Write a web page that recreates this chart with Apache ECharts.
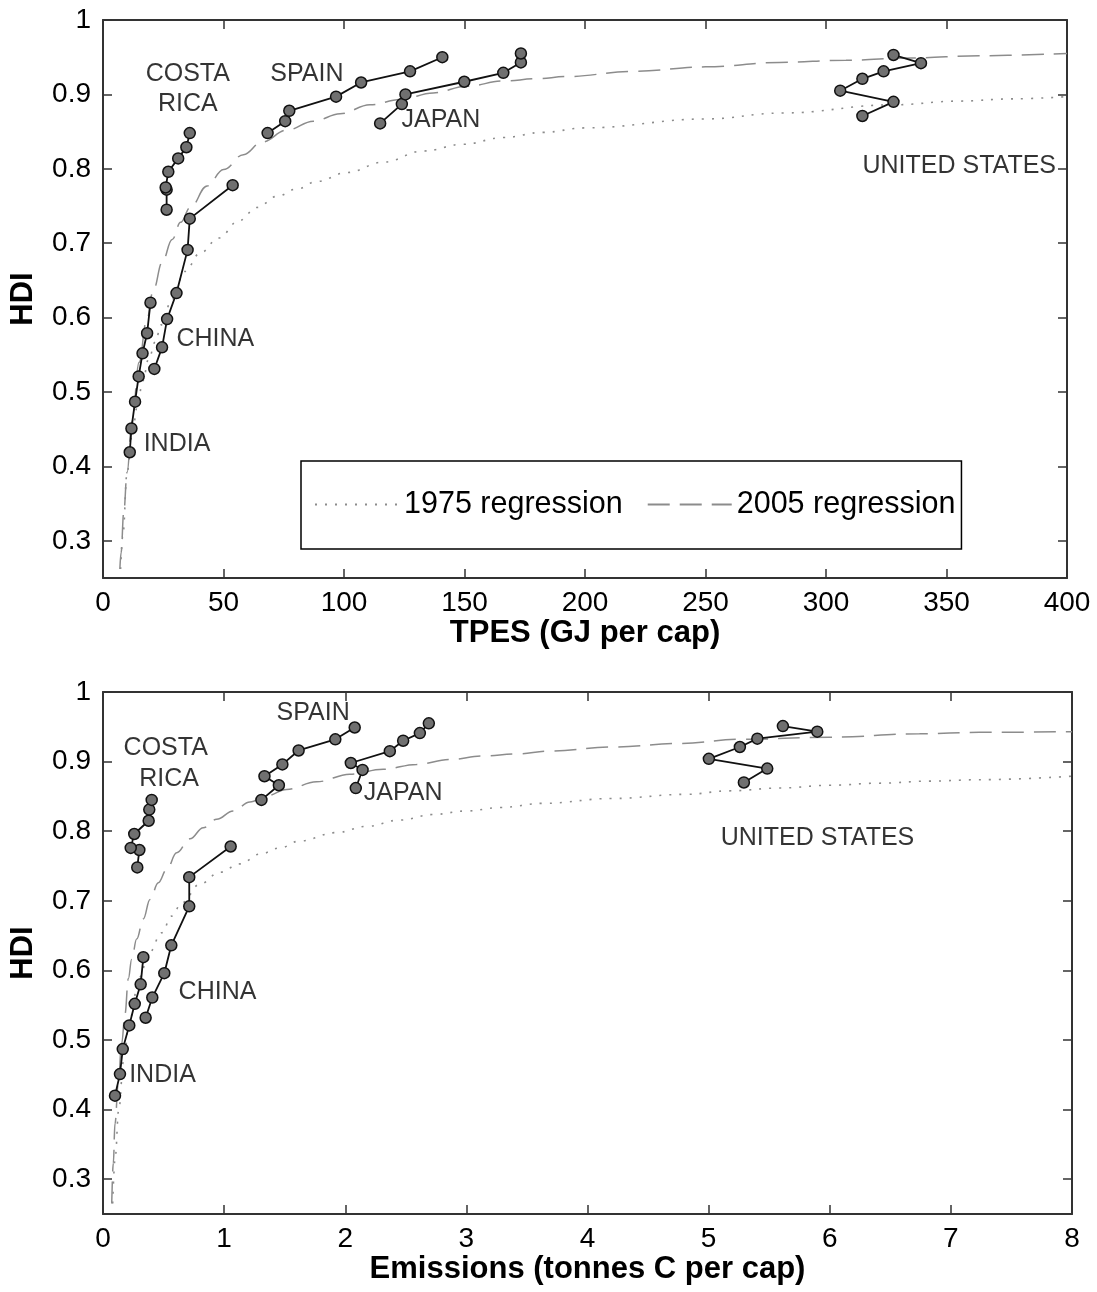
<!DOCTYPE html>
<html>
<head>
<meta charset="utf-8">
<script src="https://cdn.jsdelivr.net/npm/echarts@6/dist/echarts.min.js"></script>
<style>
  html, body { margin: 0; padding: 0; background: #fff; }
  #chart { width: 1097px; height: 1292px; }
</style>
</head>
<body>
<div id="chart"></div>
<script>
// --- DATA: top panel, TPES (GJ per cap) vs HDI ---
const tpesIndia = [[11.1,0.419],[11.8,0.451],[13.3,0.487],[14.8,0.521],[16.4,0.552],[18.3,0.579],[19.7,0.620]];
const tpesChina = [[21.3,0.531],[24.5,0.560],[26.6,0.598],[30.5,0.633],[35.1,0.691],[36.0,0.733],[53.8,0.778]];
const tpesCostaRica = [[26.4,0.745],[26.4,0.772],[26.0,0.775],[27.1,0.796],[31.2,0.814],[34.6,0.829],[36.0,0.848]];
const tpesSpain = [[68.3,0.848],[75.6,0.864],[77.3,0.878],[96.7,0.897],[107.1,0.916],[127.4,0.931],[140.8,0.950]];
const tpesJapan = [[115.0,0.861],[124.0,0.887],[125.5,0.900],[149.9,0.917],[166.1,0.929],[173.4,0.943],[173.4,0.955]];
const tpesUS = [[315.1,0.871],[328.0,0.890],[305.9,0.905],[315.1,0.921],[323.9,0.931],[339.4,0.942],[328.0,0.953]];

const tpesReg1975 = [[7.3,0.262],[8.3,0.31],[10,0.392],[12,0.44],[14.2,0.48],[16.5,0.515],[19,0.545],[21.8,0.568],
  [24,0.59],[28.7,0.625],[33.9,0.662],[40.4,0.687],[48,0.707],[56.3,0.73],[63.9,0.748],[72.2,0.763],[80.5,0.773],
  [88.7,0.783],[101.2,0.795],[116.3,0.809],[132.9,0.824],[149.5,0.833],[166.1,0.842],[182.6,0.849],[200,0.855],
  [250,0.867],[282,0.875],[327.6,0.886],[355.2,0.891],[377.4,0.894],[400,0.897]];
const tpesReg2005 = [[7.0,0.262],[7.5,0.284],[8.6,0.338],[10,0.392],[12,0.46],[15,0.54],[18,0.595],[21,0.638],
  [24.5,0.674],[28.7,0.705],[32.2,0.728],[36.2,0.748],[43.2,0.777],[50,0.799],[58.3,0.819],[66,0.836],[76.3,0.852],
  [87.3,0.864],[98.4,0.874],[110.8,0.886],[123.3,0.893],[137,0.902],[150.9,0.911],[166.1,0.918],[179.9,0.921],
  [192.3,0.924],[220,0.931],[250,0.937],[280.7,0.943],[308.3,0.946],[335.9,0.949],[363.6,0.952],[400,0.955]];

const tpesLabels = [
  { name: 'COSTA', value: [35.2, 0.927] },
  { name: 'RICA', value: [35.2, 0.887] },
  { name: 'SPAIN', value: [84.6, 0.927] },
  { name: 'JAPAN', value: [140.2, 0.866] },
  { name: 'UNITED STATES', value: [355.3, 0.803] },
  { name: 'CHINA', value: [46.6, 0.571] },
  { name: 'INDIA', value: [30.7, 0.430] }
];

// --- DATA: bottom panel, Emissions (tonnes C per cap) vs HDI ---
const emIndia = [[0.099,0.420],[0.140,0.451],[0.163,0.487],[0.217,0.521],[0.262,0.552],[0.311,0.580],[0.333,0.619]];
const emChina = [[0.352,0.532],[0.407,0.561],[0.506,0.596],[0.564,0.636],[0.712,0.692],[0.712,0.734],[1.054,0.778]];
const emCostaRica = [[0.283,0.748],[0.300,0.773],[0.229,0.776],[0.258,0.796],[0.377,0.815],[0.382,0.831],[0.402,0.845]];
const emSpain = [[1.308,0.845],[1.452,0.866],[1.333,0.879],[1.481,0.896],[1.615,0.916],[1.918,0.932],[2.078,0.949]];
const emJapan = [[2.087,0.862],[2.143,0.888],[2.046,0.898],[2.368,0.915],[2.478,0.930],[2.616,0.941],[2.690,0.955]];
const emUS = [[5.291,0.870],[5.484,0.890],[5.002,0.904],[5.258,0.921],[5.402,0.933],[5.897,0.943],[5.613,0.951]];

const emReg1975 = [[0.08,0.265],[0.10,0.33],[0.13,0.40],[0.17,0.47],[0.22,0.53],[0.30,0.59],[0.38,0.625],[0.484,0.654],
  [0.567,0.678],[0.650,0.697],[0.800,0.724],[0.965,0.741],[1.130,0.753],[1.295,0.767],[1.460,0.776],[1.625,0.786],
  [1.928,0.798],[2.176,0.807],[2.450,0.816],[2.725,0.824],[3.001,0.829],[3.276,0.834],[3.633,0.840],[4.2,0.847],
  [4.816,0.853],[5.173,0.858],[5.586,0.862],[5.998,0.866],[6.411,0.869],[6.823,0.872],[7.236,0.874],[8,0.879]];
const emReg2005 = [[0.072,0.265],[0.085,0.323],[0.099,0.38],[0.126,0.438],[0.154,0.495],[0.182,0.538],[0.209,0.588],
  [0.237,0.616],[0.278,0.645],[0.333,0.674],[0.388,0.702],[0.457,0.726],[0.526,0.745],[0.608,0.769],[0.718,0.789],
  [0.828,0.805],[0.938,0.817],[1.075,0.829],[1.213,0.842],[1.351,0.851],[1.516,0.860],[1.763,0.871],[2.038,0.882],
  [2.313,0.889],[2.588,0.896],[2.863,0.903],[3.138,0.908],[3.413,0.911],[3.688,0.915],[4.2,0.921],[4.761,0.926],
  [5.256,0.932],[5.998,0.935],[6.741,0.940],[7.236,0.942],[8,0.943]];

const emLabels = [
  { name: 'COSTA', value: [0.518, 0.919] },
  { name: 'RICA', value: [0.546, 0.875] },
  { name: 'SPAIN', value: [1.735, 0.969] },
  { name: 'JAPAN', value: [2.478, 0.855] },
  { name: 'UNITED STATES', value: [5.899, 0.790] },
  { name: 'CHINA', value: [0.945, 0.569] },
  { name: 'INDIA', value: [0.491, 0.450] }
];

const hdiTicks = [0.3, 0.4, 0.5, 0.6, 0.7, 0.8, 0.9, 1];
const regNames = ['1975 regression', '2005 regression'];

// --- STYLE HELPERS ---
const FONT = "'Liberation Sans', Arial, Helvetica, sans-serif";
const REG_GRAY = '#8c8c8c';
const axisLine = { show: true, onZero: false, lineStyle: { color: '#333', width: 2 } };
const tick = { show: true, inside: true, length: 9, lineStyle: { color: '#333', width: 1.5 } };

const xAxisPair = (grid, max, interval, name) => [
  {
    gridIndex: grid, type: 'value', min: 0, max: max, interval: interval,
    name: name, nameLocation: 'middle', nameGap: 38,
    nameTextStyle: { fontFamily: FONT, fontSize: 31, fontWeight: 'bold', color: '#000' },
    axisLine: axisLine, axisTick: tick, splitLine: { show: false },
    axisLabel: { fontFamily: FONT, fontSize: 28, color: '#000', margin: 11 }
  },
  {
    gridIndex: grid, type: 'value', position: 'top', min: 0, max: max, interval: interval,
    axisLine: axisLine, axisTick: tick, splitLine: { show: false }, axisLabel: { show: false }
  }
];

const yAxisPair = (grid) => [
  {
    gridIndex: grid, type: 'value', min: 0.25, max: 1,
    name: 'HDI', nameLocation: 'middle', nameGap: 64, nameRotate: 90,
    nameTextStyle: { fontFamily: FONT, fontSize: 31, fontWeight: 'bold', color: '#000' },
    axisLine: axisLine, splitLine: { show: false },
    axisTick: Object.assign({}, tick, { customValues: hdiTicks }),
    axisLabel: {
      fontFamily: FONT, fontSize: 28, color: '#000', margin: 12, customValues: hdiTicks,
      formatter: v => (Math.abs(v - 1) < 1e-9 ? '1' : v.toFixed(1))
    }
  },
  {
    gridIndex: grid, type: 'value', position: 'right', min: 0.25, max: 1,
    axisLine: axisLine, splitLine: { show: false },
    axisTick: Object.assign({}, tick, { customValues: hdiTicks }),
    axisLabel: { show: false }
  }
];

const countrySeries = (data, xi, yi) => ({
  type: 'line', data: data, xAxisIndex: xi, yAxisIndex: yi,
  symbol: 'circle', symbolSize: 11, z: 5, silent: true,
  lineStyle: { color: '#111', width: 1.8 },
  itemStyle: { color: '#707070', borderColor: '#111', borderWidth: 1.5 }
});

const regSeries = (name, data, xi, yi, dash) => ({
  name: name, type: 'line', data: data, xAxisIndex: xi, yAxisIndex: yi,
  smooth: 0.4, smoothMonotone: 'x', showSymbol: false, symbol: 'none', silent: true, z: 3,
  itemStyle: { color: REG_GRAY },
  lineStyle: { color: REG_GRAY, width: dash === 'dot' ? 1.6 : 1.5, type: dash === 'dot' ? [2, 8] : [22, 10] }
});

const labelSeries = (data, xi, yi) => ({
  type: 'scatter', data: data, xAxisIndex: xi, yAxisIndex: yi,
  symbolSize: 0, silent: true, z: 6,
  label: { show: true, position: 'inside', formatter: '{b}', fontFamily: FONT, fontSize: 25, color: '#000' }
});

const chart = echarts.init(document.getElementById('chart'), null, { renderer: 'canvas' });

const option = {
  animation: false,
  backgroundColor: '#fff',
  grid: [
    { left: 102, top: 20, width: 965, height: 558 },
    { left: 103, top: 692, width: 969, height: 522 }
  ],
  legend: {
    data: regNames.map(n => ({ name: n })),
    left: 301, top: 461,
    orient: 'horizontal',
    itemWidth: 84, itemHeight: 14, itemGap: 24,
    padding: [28, 6, 29, 13],
    borderColor: '#000', borderWidth: 1.5,
    selectedMode: false,
    itemStyle: { color: 'rgba(0,0,0,0)', borderWidth: 0, opacity: 0 },
    textStyle: { fontFamily: FONT, fontSize: 30.5, color: '#000' }
  },
  xAxis: [...xAxisPair(0, 400, 50, 'TPES (GJ per cap)'), ...xAxisPair(1, 8, 1, 'Emissions (tonnes C per cap)')],
  yAxis: [...yAxisPair(0), ...yAxisPair(1)],
  series: [
    regSeries(regNames[0], tpesReg1975, 0, 0, 'dot'),
    regSeries(regNames[1], tpesReg2005, 0, 0, 'dash'),
    countrySeries(tpesIndia, 0, 0),
    countrySeries(tpesChina, 0, 0),
    countrySeries(tpesCostaRica, 0, 0),
    countrySeries(tpesSpain, 0, 0),
    countrySeries(tpesJapan, 0, 0),
    countrySeries(tpesUS, 0, 0),
    labelSeries(tpesLabels, 0, 0),

    regSeries(regNames[0], emReg1975, 2, 2, 'dot'),
    regSeries(regNames[1], emReg2005, 2, 2, 'dash'),
    countrySeries(emIndia, 2, 2),
    countrySeries(emChina, 2, 2),
    countrySeries(emCostaRica, 2, 2),
    countrySeries(emSpain, 2, 2),
    countrySeries(emJapan, 2, 2),
    countrySeries(emUS, 2, 2),
    labelSeries(emLabels, 2, 2)
  ]
};

chart.setOption(option);
</script>
</body>
</html>
